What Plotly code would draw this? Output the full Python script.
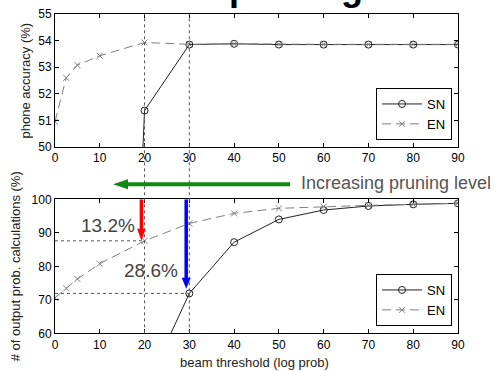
import plotly.graph_objects as go

# ---------------- data ----------------
beam_en = [0, 2.5, 5, 10, 20, 30, 40, 50, 60, 70, 80, 90]
acc_en = [50.95, 52.6, 53.08, 53.43, 53.93, 53.86, 53.88, 53.86, 53.86, 53.86, 53.86, 53.86]
beam_sn = [10, 20, 30, 40, 50, 60, 70, 80, 90]
acc_sn = [13.0, 51.37, 53.85, 53.88, 53.85, 53.85, 53.85, 53.85, 53.85]

calc_en = [70.6, 73.4, 76.2, 80.8, 87.6, 92.8, 95.8, 97.3, 97.8, 98.2, 98.5, 98.8]
beam_sn2 = [20, 30, 40, 50, 60, 70, 80, 90]
calc_sn = [43.0, 71.9, 87.2, 94.0, 96.8, 98.0, 98.5, 98.8]

x_ticks = [0, 10, 20, 30, 40, 50, 60, 70, 80, 90]
acc_ticks = [50, 51, 52, 53, 54, 55]
calc_ticks = [60, 70, 80, 90, 100]
label_en_pct = "13.2%"
label_sn_pct = "28.6%"
slide_title = "Beam pruning"

W, H = 499, 371
FONT = "Liberation Sans, Arial, sans-serif"
SN_COLOR = "#222222"
EN_COLOR = "#808080"

fig = go.Figure()

def add_pair(xsn, ysn, xen, yen, xa, ya, leg):
    fig.add_trace(go.Scatter(x=xsn, y=ysn, mode="lines+markers", name="SN",
                             xaxis=xa, yaxis=ya, legend=leg,
                             line=dict(color=SN_COLOR, width=1),
                             marker=dict(symbol="circle-open", size=7, color=SN_COLOR,
                                         line=dict(width=1, color=SN_COLOR))))
    fig.add_trace(go.Scatter(x=xen, y=yen, mode="lines+markers", name="EN",
                             xaxis=xa, yaxis=ya, legend=leg,
                             line=dict(color=EN_COLOR, width=1, dash="9px,5px"),
                             marker=dict(symbol="x-thin-open", size=6, color=EN_COLOR,
                                         line=dict(width=1, color=EN_COLOR))))

add_pair(beam_sn, acc_sn, beam_en, acc_en, "x", "y", "legend")
add_pair(beam_sn2, calc_sn, beam_en, calc_en, "x2", "y2", "legend2")

xdom = [55 / W, 458 / W]
top_dom = [1 - 147 / H, 1 - 14 / H]
bot_dom = [1 - 333.3 / H, 1 - 199.3 / H]

axis_common = dict(showgrid=False, zeroline=False, showline=True, linecolor="black",
                   linewidth=1, mirror="ticks", ticks="inside", ticklen=4,
                   automargin=False,
                   tickcolor="black", tickfont=dict(family=FONT, size=12, color="black"))

fig.update_layout(
    width=W, height=H, margin=dict(l=0, r=0, t=0, b=0, autoexpand=False),
    paper_bgcolor="white", plot_bgcolor="white",
    showlegend=True,
    xaxis=dict(domain=xdom, range=[0, 90], tickvals=x_ticks, anchor="y", **axis_common),
    yaxis=dict(domain=top_dom, range=[50, 55], tickvals=acc_ticks, anchor="x", **axis_common),
    xaxis2=dict(domain=xdom, range=[0, 90], tickvals=x_ticks, anchor="y2", **axis_common),
    yaxis2=dict(domain=bot_dom, range=[60, 100], tickvals=calc_ticks, anchor="x2", **axis_common),
    legend=dict(x=452 / W, y=1 - 140 / H, xanchor="right", yanchor="bottom",
                bordercolor="black", borderwidth=1, bgcolor="white",
                font=dict(family=FONT, size=13, color="black"), itemwidth=40,
                tracegroupgap=0),
    legend2=dict(x=452 / W, y=1 - 326 / H, xanchor="right", yanchor="bottom",
                 bordercolor="black", borderwidth=1, bgcolor="white",
                 font=dict(family=FONT, size=13, color="black"), itemwidth=40,
                 tracegroupgap=0),
)

shapes = []
for xv in (20, 30):
    shapes.append(dict(type="line", xref="x", yref="paper", x0=xv, x1=xv,
                       y0=bot_dom[0], y1=top_dom[1],
                       line=dict(color="#555555", width=1, dash="dot")))
en20 = calc_en[beam_en.index(20)]
sn30 = calc_sn[beam_sn2.index(30)]
shapes.append(dict(type="line", xref="x2", yref="y2", x0=0, x1=20, y0=en20, y1=en20,
                   line=dict(color="#555555", width=1, dash="dot")))
shapes.append(dict(type="line", xref="x2", yref="y2", x0=0, x1=30, y0=sn30, y1=sn30,
                   line=dict(color="#555555", width=1, dash="dot")))

rx = 19.3
shapes.append(dict(type="line", xref="x2", yref="y2", x0=rx, x1=rx, y0=100, y1=90.5,
                   line=dict(color="#ff0000", width=3.5)))
shapes.append(dict(type="path", xref="x2", yref="y2",
                   path=f"M {rx-0.95},91.2 L {rx+0.95},91.2 L {rx},87.6 Z",
                   fillcolor="#ff0000", line=dict(color="#ff0000", width=0)))
bx = 29.3
shapes.append(dict(type="line", xref="x2", yref="y2", x0=bx, x1=bx, y0=100, y1=76.0,
                   line=dict(color="#0000ff", width=3.5)))
shapes.append(dict(type="path", xref="x2", yref="y2",
                   path=f"M {bx-1.0},76.6 L {bx+1.0},76.6 L {bx},73.3 Z",
                   fillcolor="#0000ff", line=dict(color="#0000ff", width=0)))
gy = 1 - 184.3 / H
gh = 5 / H
shapes.append(dict(type="line", xref="x2", yref="paper", x0=16.0, x1=52.5, y0=gy, y1=gy,
                   line=dict(color="#108a10", width=4)))
shapes.append(dict(type="path", xref="paper", yref="paper",
                   path=f"M {128/W},{gy+gh} L {128/W},{gy-gh} L {113/W},{gy} Z",
                   fillcolor="#108a10", line=dict(color="#108a10", width=0)))
fig.update_layout(shapes=shapes)

def txt(text, px, py, size, color, angle=0, xanchor="center", yanchor="middle", bold=False):
    return dict(text=f"<b>{text}</b>" if bold else text, x=px / W, y=1 - py / H,
                xref="paper", yref="paper", showarrow=False, textangle=angle,
                xanchor=xanchor, yanchor=yanchor, borderpad=0,
                font=dict(family=FONT, size=size, color=color))

ann = [
    # slide title, mostly cut off at the top edge (only descenders visible)
    txt(slide_title, 364, 9, 36, "black", xanchor="right", yanchor="bottom", bold=True),
    txt("phone accuracy (%)", 25, (14 + 147) / 2, 13, "#222222", angle=-90),
    txt("# of output prob. calculations (%)", 15, (199.3 + 333.3) / 2, 13, "#222222", angle=-90),
    txt("beam threshold (log prob)", 255, 362, 13, "#222222"),
    txt("Increasing pruning level", 300, 183, 18, "#555555", xanchor="left"),
    txt(label_en_pct, 108, 225, 19, "#444444"),
    txt(label_sn_pct, 150.5, 270.5, 19, "#444444"),
]
fig.update_layout(annotations=ann)

fig.write_html("out.html", config={"displayModeBar": False},
               post_script="document.body.style.margin='0px';")
